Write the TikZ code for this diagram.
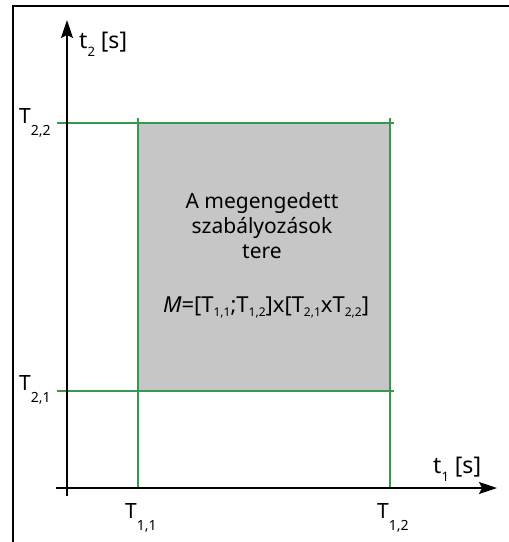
\documentclass[tikz,border=0pt]{standalone}
\usepackage{fontspec}
\setmainfont{Noto Sans}
\usetikzlibrary{arrows.meta}
\definecolor{grn}{RGB}{56,150,78}
\definecolor{regiongray}{RGB}{198,198,198}
\newcommand{\mysub}[1]{\raisebox{-12pt}{\fontsize{14}{14}\selectfont #1}}
\newcommand{\fsub}[1]{\raisebox{-4pt}{\fontsize{12}{12}\selectfont #1}}
\newcommand{\tsub}[1]{\raisebox{-8pt}{\fontsize{13}{13}\selectfont #1}}
\begin{document}
\begin{tikzpicture}[x=1pt,y=-1pt,
  lbl/.style={inner sep=0pt,anchor=base west,font=\fontsize{21}{21}\selectfont},
  boxtxt/.style={inner sep=0pt,anchor=base,font=\fontsize{21}{21}\selectfont},
  axis/.style={line width=1.8pt,-{Stealth[length=18pt,width=12pt,inset=3pt]}},
  frame/.style={line width=2pt},
  gline/.style={grn,line width=1.5pt}]
\useasboundingbox (0,0) rectangle (509,542);
% frame
\coordinate (fb) at (13,542);
\coordinate (ftl) at (13,6);
\coordinate (fr) at (509,6);
\draw[frame] (fb) -- (ftl) -- (fr);
% region
\fill[regiongray] (138,123) rectangle (390,391);
% green lines
\coordinate (h1a) at (57,123); \coordinate (h1b) at (394,123);
\coordinate (h2a) at (57,391); \coordinate (h2b) at (394,391);
\coordinate (v1a) at (138,118); \coordinate (v1b) at (138,488);
\coordinate (v2a) at (390,118); \coordinate (v2b) at (390,488);
\draw[gline] (h1a) -- (h1b);
\draw[gline] (h2a) -- (h2b);
\draw[gline] (v1a) -- (v1b);
\draw[gline] (v2a) -- (v2b);
% axes
\coordinate (ys) at (67,496); \coordinate (ye) at (67,20);
\coordinate (xs) at (56,488); \coordinate (xe) at (497,488);
\draw[axis] (ys) -- (ye);
\draw[axis] (xs) -- (xe);
% axis labels
\node[lbl,font=\fontsize{23}{23}\selectfont] (t2) at (79,48) {t\tsub{2} [s]};
\node[lbl,font=\fontsize{23}{23}\selectfont] (t1) at (433,473) {t\tsub{1} [s]};
\node[lbl] (T22) at (19,123) {T\mysub{2,2}};
\node[lbl] (T21) at (19,390) {T\mysub{2,1}};
\node[lbl] (T11) at (125,518) {T\mysub{1,1}};
\node[lbl] (T12) at (377,518) {T\mysub{1,2}};
% text in region
\node[boxtxt] (l1) at (262,208) {A megengedett};
\node[boxtxt] (l2) at (262,233) {szabályozások};
\node[boxtxt] (l3) at (262,258) {tere};
\node[boxtxt,font=\fontsize{22}{22}\selectfont] (f) at (266,312) {\textit{M}=[T\fsub{1,1};T\fsub{1,2}]x[T\fsub{2,1}xT\fsub{2,2}]};
\end{tikzpicture}
\end{document}
